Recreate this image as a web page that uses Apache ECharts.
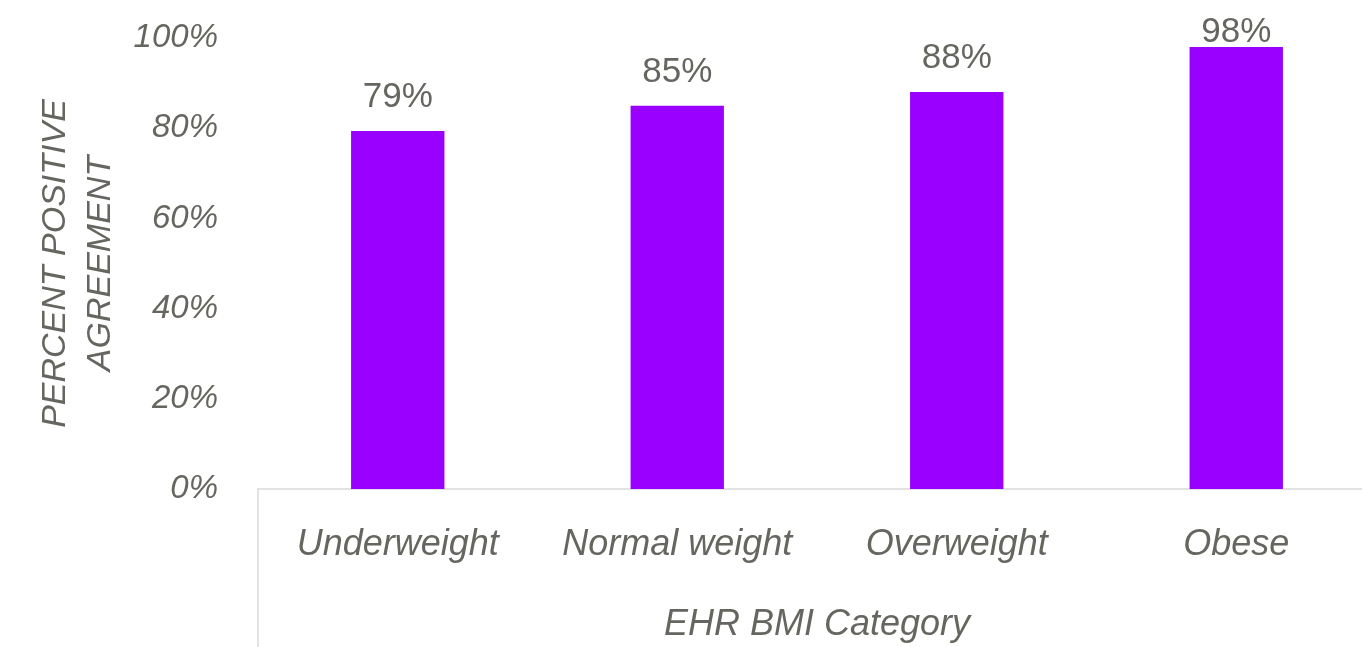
<!DOCTYPE html>
<html>
<head>
<meta charset="utf-8">
<script src="https://cdn.jsdelivr.net/npm/echarts@6/dist/echarts.min.js"></script>
<style>
html,body{margin:0;padding:0;background:#fff;}
#chart{width:1362px;height:647px;}
</style>
</head>
<body>
<div id="chart"></div>
<script>
var categories = ['Underweight', 'Normal weight', 'Overweight', 'Obese'];
var agreement = [79.4, 85, 88, 98];
var yTicks = { min: 0, max: 100, interval: 20 };
var xTitle = 'EHR BMI Category';
var yTitle = 'PERCENT POSITIVE\nAGREEMENT';

var textColor = '#666660';
var fontFam = '"Liberation Sans", Arial, sans-serif';

var chart = echarts.init(document.getElementById('chart'));
chart.setOption({
  animation: false,
  grid: { left: 258, width: 1118, top: 38, bottom: 158, containLabel: false, outerBoundsMode: 'none' },
  xAxis: {
    type: 'category',
    data: categories,
    boundaryGap: true,
    axisLine: { show: true, lineStyle: { color: '#d9d9d9', width: 1.5 } },
    axisTick: {
      show: true,
      interval: function (i) { return i === 0; },
      length: 160,
      lineStyle: { color: '#d9d9d9', width: 1.5 }
    },
    axisLabel: {
      color: textColor, fontSize: 36, fontStyle: 'italic', fontFamily: fontFam,
      margin: 38, interval: 0
    },
    name: xTitle,
    nameLocation: 'middle',
    nameGap: 118,
    nameTextStyle: { color: textColor, fontSize: 36, fontStyle: 'italic', fontFamily: fontFam }
  },
  yAxis: {
    type: 'value',
    min: yTicks.min, max: yTicks.max, interval: yTicks.interval,
    axisLine: { show: false },
    axisTick: { show: false },
    splitLine: { show: false },
    axisLabel: {
      formatter: '{value}%',
      color: textColor, fontSize: 33, fontStyle: 'italic', fontFamily: fontFam,
      margin: 40
    },
    name: yTitle,
    nameLocation: 'middle',
    nameRotate: 90,
    nameGap: 135,
    nameTextStyle: { color: textColor, fontSize: 34, fontStyle: 'italic', fontFamily: fontFam, lineHeight: 45, align: 'center' }
  },
  series: [{
    type: 'bar',
    barWidth: '33.4%',
    data: agreement.map(function (v, i) {
      return {
        value: v,
        label: { distance: i === agreement.length - 1 ? -3 : 16 }
      };
    }),
    itemStyle: { color: '#9900FF' },
    label: {
      show: true,
      position: 'top',
      formatter: function (p) { return Math.round(p.value) + '%'; },
      color: textColor, fontSize: 35, fontFamily: fontFam
    }
  }]
});
</script>
</body>
</html>
